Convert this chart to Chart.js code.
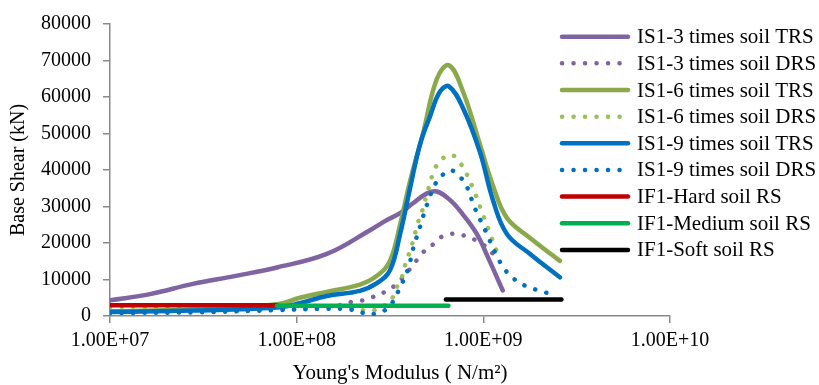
<!DOCTYPE html>
<html>
<head>
<meta charset="utf-8">
<script src="https://cdn.jsdelivr.net/npm/chart.js@4.4.1/dist/chart.umd.min.js"></script>
<style>
  html, body { margin: 0; padding: 0; background: #fff; }
  #wrap { width: 819px; height: 385px; position: relative; }
</style>
</head>
<body>
<div id="wrap"><canvas id="shearChart" width="819" height="385"></canvas></div>
<script>
// --- Dados (E em N/m², corte basal em kN) ---
const xTickValues = [1e7, 1e8, 1e9, 1e10];
const xTickLabels = ['1.00E+07', '1.00E+08', '1.00E+09', '1.00E+10'];
const yTickStep = 10000;

const is3TrsModulus = [1.00e7, 1.64e7, 2.78e7, 4.73e7, 7.84e7, 1.45e8, 2.47e8, 2.97e8, 3.58e8, 4.20e8, 4.99e8, 5.64e8, 6.62e8, 7.78e8, 9.24e8, 1.08e9, 1.27e9];
const is3TrsShear   = [4300, 6000, 8800, 11000, 13300, 17000, 23500, 26000, 28200, 30900, 33600, 34100, 31800, 27800, 22400, 15100, 7000];

const is3DrsModulus = [1.00e7, 2.78e7, 7.84e7, 1.28e8, 1.71e8, 1.98e8, 2.26e8, 2.56e8, 2.97e8, 3.36e8, 4.05e8, 4.75e8, 5.37e8, 5.93e8, 6.79e8, 7.78e8, 8.91e8, 9.95e8, 1.13e9];
const is3DrsShear   = [1000, 1300, 1800, 2200, 3000, 3900, 4300, 5200, 6600, 8400, 12900, 17400, 19600, 21600, 22500, 22100, 21000, 19600, 17000];

const is6TrsModulus = [1.00e7, 2.78e7, 7.84e7, 1.04e8, 1.45e8, 2.18e8, 2.69e8, 3.16e8, 3.58e8, 4.05e8, 4.75e8, 5.64e8, 6.54e8, 7.78e8, 9.59e8, 1.13e9, 1.34e9, 1.78e9, 2.57e9];
const is6TrsShear   = [1300, 1800, 3200, 5000, 6600, 8600, 11000, 15100, 25000, 37000, 50000, 65000, 68700, 61500, 47000, 35500, 26800, 21400, 15100];

const is6DrsModulus = [1.00e7, 7.84e7, 1.71e8, 2.24e8, 2.56e8, 2.97e8, 3.28e8, 3.44e8, 3.66e8, 3.80e8, 4.15e8, 4.46e8, 4.69e8, 5.05e8, 5.51e8, 6.00e8, 6.79e8, 7.49e8, 8.07e8, 9.02e8, 9.95e8, 1.08e9, 1.21e9];
const is6DrsShear   = [2500, 2700, 2400, 1600, 1500, 3000, 5200, 7900, 10600, 13800, 19600, 25500, 28600, 34500, 40400, 43000, 44100, 42000, 39300, 33600, 27800, 23000, 16200];

const is9TrsModulus = [1.00e7, 2.78e7, 7.84e7, 1.04e8, 1.45e8, 2.18e8, 2.69e8, 3.16e8, 3.58e8, 4.05e8, 4.58e8, 5.18e8, 5.86e8, 6.54e8, 7.78e8, 9.59e8, 1.13e9, 1.34e9, 1.78e9, 2.57e9];
const is9TrsShear   = [1100, 1500, 2300, 3500, 5500, 6900, 9000, 12500, 22400, 35000, 47000, 54700, 61500, 62900, 57000, 44900, 31500, 22400, 17000, 10600];

const is9DrsModulus = [1.00e7, 2.78e7, 7.84e7, 1.45e8, 1.93e8, 2.24e8, 2.63e8, 2.97e8, 3.28e8, 3.49e8, 3.95e8, 4.20e8, 4.58e8, 4.99e8, 5.51e8, 6.00e8, 6.71e8, 7.49e8, 8.07e8, 9.02e8, 1.03e9, 1.18e9, 1.31e9, 1.44e9, 1.63e9, 1.84e9, 2.11e9, 2.42e9];
const is9DrsShear   = [800, 1000, 1600, 2000, 1800, 900, 600, 1600, 3900, 6600, 12900, 18300, 24500, 30500, 36000, 38500, 39900, 38100, 36000, 29500, 23200, 16500, 12600, 10400, 8600, 7500, 6600, 5500];

const hardModulus   = [1.00e7, 7.84e7];
const hardShear     = [2950, 2950];
const mediumModulus = [7.84e7, 6.50e8];
const mediumShear   = [2800, 2800];
const softModulus   = [6.30e8, 2.62e9];
const softShear     = [4500, 4500];

// --- Montagem das séries ---
const toPoints = (xs, ys) => xs.map((x, i) => ({ x: x, y: ys[i] }));
const dotted = [0.1, 11.4];

const seriesDefs = [
    { label: 'IS1-3 times soil TRS', xs: is3TrsModulus, ys: is3TrsShear, color: '#8064A2' },
    { label: 'IS1-3 times soil DRS', xs: is3DrsModulus, ys: is3DrsShear, color: '#8064A2', dash: dotted },
    { label: 'IS1-6 times soil TRS', xs: is6TrsModulus, ys: is6TrsShear, color: '#8BA84A' },
    { label: 'IS1-6 times soil DRS', xs: is6DrsModulus, ys: is6DrsShear, color: '#9BBF59', dash: dotted },
    { label: 'IS1-9 times soil TRS', xs: is9TrsModulus, ys: is9TrsShear, color: '#0070C0' },
    { label: 'IS1-9 times soil DRS', xs: is9DrsModulus, ys: is9DrsShear, color: '#0070C0', dash: dotted },
    { label: 'IF1-Hard soil RS', xs: hardModulus, ys: hardShear, color: '#C00000' },
    { label: 'IF1-Medium soil RS', xs: mediumModulus, ys: mediumShear, color: '#00B050' },
    { label: 'IF1-Soft soil RS', xs: softModulus, ys: softShear, color: '#000000' }
];

const datasets = seriesDefs.map((s, i) => ({
    label: s.label,
    data: toPoints(s.xs, s.ys),
    borderColor: s.color,
    backgroundColor: s.color,
    borderWidth: 4.5,
    borderDash: s.dash || [],
    borderCapStyle: 'round',
    borderJoinStyle: 'round',
    tension: 0.4,
    pointRadius: 0,
    fill: false,
    order: seriesDefs.length - i
}));

const serif = '"Liberation Serif", "Times New Roman", serif';

// --- Legenda e título do eixo X desenhados por cima ---
const sideLegend = {
    id: 'sideLegend',
    afterDraw(chart) {
        const ctx = chart.ctx;
        ctx.save();
        ctx.font = '21px ' + serif;
        ctx.textBaseline = 'middle';
        chart.data.datasets.forEach((ds, i) => {
            const y = 36.7 + i * 26.65;
            ctx.beginPath();
            ctx.lineWidth = ds.borderWidth;
            ctx.strokeStyle = ds.borderColor;
            ctx.lineCap = 'round';
            ctx.setLineDash(ds.borderDash);
            ctx.moveTo(562, y);
            ctx.lineTo(628, y);
            ctx.stroke();
            ctx.setLineDash([]);
            ctx.fillStyle = '#000';
            ctx.fillText(ds.label, 637, y + 1);
        });
        // título do eixo X (centrado como no original)
        ctx.textAlign = 'center';
        ctx.fillText("Young's Modulus ( N/m²)", 400, 373);
        ctx.restore();
    }
};

const axisGray = '#898989';

new Chart(document.getElementById('shearChart'), {
    type: 'line',
    data: { datasets: datasets },
    options: {
        responsive: false,
        animation: false,
        layout: { padding: { top: 20.7, right: 149, left: 0, bottom: 0 } },
        plugins: {
            legend: { display: false },
            tooltip: { enabled: false }
        },
        scales: {
            x: {
                type: 'logarithmic',
                min: 1e7,
                max: 1e10,
                afterBuildTicks: (axis) => { axis.ticks = xTickValues.map(v => ({ value: v })); },
                afterFit: (scale) => { scale.height = 69; },
                border: { display: true, color: axisGray, width: 1.5 },
                grid: { display: true, drawOnChartArea: false, drawTicks: true, tickLength: 7, color: axisGray, lineWidth: 1.5 },
                ticks: {
                    autoSkip: false,
                    maxRotation: 0,
                    padding: 6,
                    color: '#000',
                    font: { family: serif, size: 20 },
                    callback: (v, i) => xTickLabels[i]
                }
            },
            y: {
                min: 0,
                max: 80000,
                afterFit: (scale) => { scale.width = 110; },
                border: { display: true, color: axisGray, width: 1.5 },
                grid: { display: true, drawOnChartArea: false, drawTicks: true, tickLength: 7, color: axisGray, lineWidth: 1.5 },
                ticks: {
                    stepSize: yTickStep,
                    padding: 12,
                    color: '#000',
                    font: { family: serif, size: 20 },
                    callback: (v) => String(v)
                },
                title: {
                    display: true,
                    text: 'Base Shear (kN)',
                    color: '#000',
                    font: { family: serif, size: 20 },
                    padding: { top: 7, bottom: 0 }
                }
            }
        }
    },
    plugins: [sideLegend]
});
</script>
</body>
</html>
